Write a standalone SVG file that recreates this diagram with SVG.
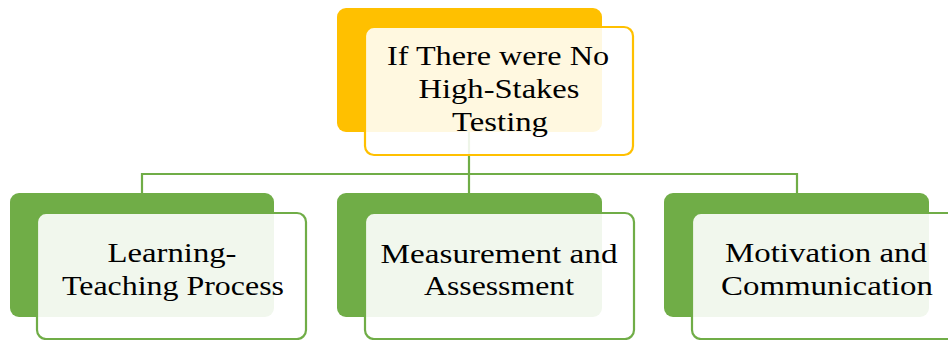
<svg xmlns="http://www.w3.org/2000/svg" width="948" height="340" viewBox="0 0 948 340">
<style>
.back-y{fill:#FFC000}
.front-y{fill:#FFFFFF;fill-opacity:0.88;stroke:#FFC000;stroke-width:2.2}
.back-g{fill:#70AD47}
.front-g{fill:#FFFFFF;fill-opacity:0.9;stroke:#70AD47;stroke-width:2.2}
.conn{fill:none;stroke:#70AD47;stroke-width:2.2}
text{font-family:"Liberation Serif","Times New Roman",serif;font-size:28px;fill:#000;text-anchor:middle}
</style>
<rect width="948" height="340" fill="#FFFFFF"/>
<g id="connectors">
<path class="conn" d="M469,132 V174 M142,193 V174 H797 V193 M469,174 V193"/>
</g>
<g id="node-top">
<rect class="back-y" x="337" y="8" width="265" height="124" rx="9"/>
<rect class="front-y" x="365" y="27" width="268" height="128" rx="9"/>
<text x="498" y="65" textLength="222" lengthAdjust="spacingAndGlyphs">If There were No</text>
<text x="499" y="98" textLength="161" lengthAdjust="spacingAndGlyphs">High-Stakes</text>
<text x="500" y="131" textLength="96" lengthAdjust="spacingAndGlyphs">Testing</text>
</g>
<g id="node-learning">
<rect class="back-g" x="10" y="193" width="264" height="124" rx="9"/>
<rect class="front-g" x="37" y="213" width="269" height="126" rx="9"/>
<text x="172" y="262" textLength="129" lengthAdjust="spacingAndGlyphs">Learning-</text>
<text x="173" y="295" textLength="222" lengthAdjust="spacingAndGlyphs">Teaching Process</text>
</g>
<g id="node-measurement">
<rect class="back-g" x="337" y="193" width="265" height="124" rx="9"/>
<rect class="front-g" x="365" y="213" width="269" height="126" rx="9"/>
<text x="499" y="263" textLength="237" lengthAdjust="spacingAndGlyphs">Measurement and</text>
<text x="499" y="295" textLength="150" lengthAdjust="spacingAndGlyphs">Assessment</text>
</g>
<g id="node-motivation">
<rect class="back-g" x="664" y="193" width="265" height="124" rx="9"/>
<rect class="front-g" x="692" y="213" width="269" height="126" rx="9"/>
<text x="826" y="262" textLength="202" lengthAdjust="spacingAndGlyphs">Motivation and</text>
<text x="827" y="295" textLength="212" lengthAdjust="spacingAndGlyphs">Communication</text>
</g>
</svg>
